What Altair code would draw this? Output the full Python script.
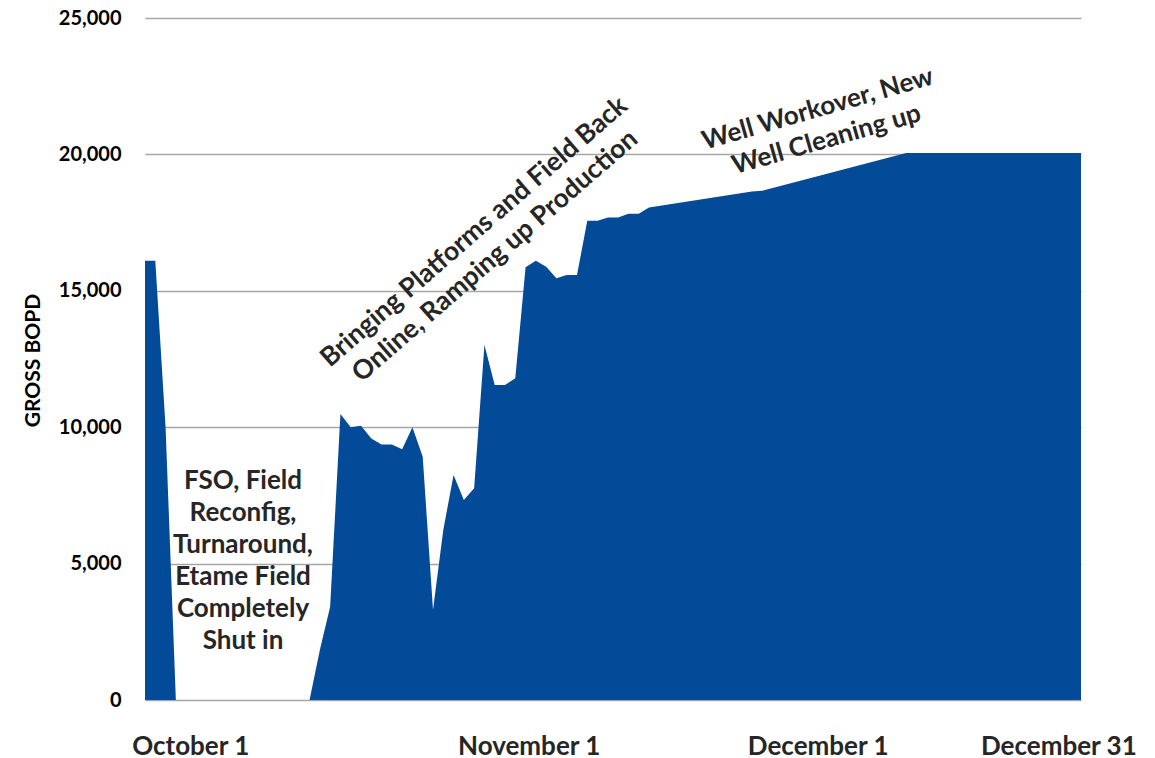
import altair as alt
import pandas as pd

# Daily gross oil production, day 0 = October 1
days = [0, 1, 2, 3, 16, 17, 18, 19, 20, 21, 22, 23, 24, 25, 26, 27, 28, 29, 30,
        31, 32, 33, 34, 35, 36, 37, 38, 39, 40, 41, 42, 43, 44, 45, 46, 47, 48,
        49, 59, 60, 74, 91]
bopd = [16100, 16100, 10000, 0, 0, 1830, 3420, 10480, 10000, 10050, 9590, 9370,
        9370, 9190, 10000, 8920, 3300, 6230, 8250, 7330, 7760, 13010, 11550,
        11550, 11790, 15860, 16100, 15880, 15460, 15580, 15580, 17570, 17570,
        17690, 17690, 17820, 17820, 18050, 18640, 18670, 20050, 20050]

month_labels = ["October 1", "November 1", "December 1", "December 31"]
y_ticks = [0, 5000, 10000, 15000, 20000, 25000]

notes = [
    "FSO, Field\nReconfig,\nTurnaround,\nEtame Field\nCompletely\nShut in",
    "Bringing Platforms and Field Back\nOnline, Ramping up Production",
    "Well Workover, New\nWell Cleaning up",
]

FONT = "Lato"
BLUE = "#034A98"
TEXT = "#262626"

df = pd.DataFrame({"day": days, "bopd": bopd})

x_scale = alt.Scale(domain=[0, 91], nice=False, zero=False)
y_scale = alt.Scale(domain=[0, 25000], nice=False)

label_expr = (
    f"datum.value < 20 ? '{month_labels[0]}' : "
    f"datum.value < 50 ? '{month_labels[1]}' : "
    f"datum.value < 80 ? '{month_labels[2]}' : '{month_labels[3]}'"
)

area = alt.Chart(df).mark_area(color=BLUE, opacity=1, interpolate="linear").encode(
    x=alt.X(
        "day:Q",
        scale=x_scale,
        axis=alt.Axis(
            values=[4.4, 37.3, 65.4, 88.8],
            labelExpr=label_expr,
            title=None,
            grid=False,
            domain=False,
            ticks=False,
            labelFont=FONT,
            labelFontSize=26,
            labelFontWeight="bold",
            labelColor=TEXT,
            labelBaseline="middle",
            labelPadding=46,
            labelFlush=False,
            labelOverlap=False,
        ),
    ),
    y=alt.Y(
        "bopd:Q",
        scale=y_scale,
        axis=alt.Axis(
            values=y_ticks,
            format=",d",
            title="GROSS BOPD",
            titleFont=FONT,
            titleFontSize=21,
            titleFontWeight="bold",
            titleColor="#000000",
            titleAngle=-90,
            titleAlign="center",
            titleBaseline="middle",
            titleX=-112,
            titleY=342,
            grid=True,
            gridColor="#a6a6a6",
            gridWidth=1.3,
            domain=False,
            ticks=False,
            labelFont=FONT,
            labelFontSize=20,
            labelFontWeight="bold",
            labelColor="#000000",
            labelPadding=24,
            labelBaseline="middle",
        ),
    ),
)

# Annotations anchored (first line) in data units (day, BOPD)
notes_df = pd.DataFrame({
    "day": [9.53, 32.0, 65.4],
    "bopd": [8030, 17155, 21665],
    "text": notes,
    "angle": [0, 319, 344],
})

def note_layer(i, size):
    return alt.Chart(notes_df.iloc[[i]]).mark_text(
        font=FONT,
        fontSize=size,
        fontWeight="bold",
        color=TEXT,
        align="center",
        baseline="middle",
        lineBreak="\n",
        lineHeight=32,
        angle=int(notes_df["angle"].iloc[i]),
    ).encode(
        x=alt.X("day:Q", scale=x_scale),
        y=alt.Y("bopd:Q", scale=y_scale),
        text="text:N",
    )

chart = alt.layer(
    area,
    note_layer(0, 26),
    note_layer(1, 26.5),
    note_layer(2, 26),
).properties(
    width=936,
    height=682,
    autosize=alt.AutoSizeParams(type="none"),
    padding={"left": 145, "top": 18, "right": 74, "bottom": 58},
    background="white",
).configure_view(stroke=None)

chart.save("out.html", embed_options={"renderer": "svg", "actions": False})
